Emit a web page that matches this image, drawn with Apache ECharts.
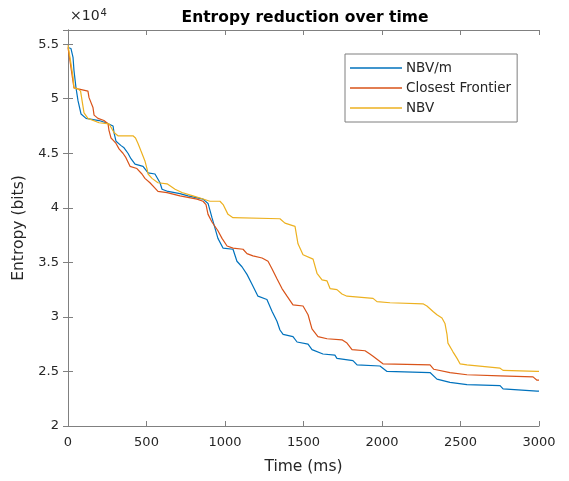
<!DOCTYPE html>
<html>
<head>
<meta charset="utf-8">
<script src="https://cdn.jsdelivr.net/npm/echarts@6/dist/echarts.min.js"></script>
<style>
  html, body { margin: 0; padding: 0; background: #fff; }
  #chart { width: 569px; height: 481px; }
</style>
</head>
<body>
<div id="chart"></div>
<script>
  // values in units of 10^4 bits, time in ms
  var seriesNames = ['NBV/m', 'Closest Frontier', 'NBV'];
  var seriesColors = ['#0072BD', '#D95319', '#EDB120'];

  var timeNbvM = [0, 19, 32, 38, 51, 64, 83, 115, 198, 242, 287, 293, 306, 338, 357, 382, 401, 427, 478, 510,
    554, 586, 599, 637, 713, 764, 860, 892, 917, 955, 988, 1051, 1076, 1108, 1140, 1172, 1210, 1267, 1300, 1331,
    1350, 1370, 1433, 1459, 1529, 1554, 1624, 1700, 1713, 1815, 1841, 1987, 2032, 2306, 2350, 2433, 2541, 2752, 2771, 2987, 3000];
  var entropyNbvM = [5.47, 5.46, 5.38, 5.26, 5.10, 4.98, 4.86, 4.82, 4.80, 4.78, 4.75, 4.69, 4.61, 4.57, 4.55, 4.50, 4.45, 4.40, 4.38, 4.32,
    4.31, 4.23, 4.17, 4.15, 4.13, 4.11, 4.08, 4.04, 3.91, 3.72, 3.63, 3.62, 3.51, 3.46, 3.39, 3.30, 3.19, 3.16, 3.05, 2.96,
    2.88, 2.84, 2.82, 2.77, 2.75, 2.70, 2.66, 2.65, 2.62, 2.60, 2.56, 2.55, 2.50, 2.49, 2.43, 2.40, 2.38, 2.37, 2.34, 2.32, 2.32];

  var timeFrontier = [0, 6, 38, 64, 127, 134, 159, 166, 191, 229, 255, 261, 274, 287, 306, 325, 350, 369, 395, 439,
    471, 490, 522, 554, 573, 631, 713, 822, 860, 879, 892, 917, 955, 981, 1013, 1051, 1115, 1140, 1178, 1236,
    1274, 1300, 1331, 1363, 1395, 1433, 1497, 1529, 1554, 1592, 1650, 1745, 1777, 1809, 1892, 1923, 1943, 2006, 2306, 2330,
    2433, 2541, 2752, 2962, 2987, 3000];
  var entropyFrontier = [5.47, 5.47, 5.10, 5.09, 5.07, 5.01, 4.92, 4.85, 4.82, 4.80, 4.77, 4.71, 4.64, 4.62, 4.59, 4.54, 4.50, 4.46, 4.38, 4.36,
    4.31, 4.27, 4.23, 4.18, 4.15, 4.14, 4.11, 4.08, 4.06, 4.03, 3.94, 3.87, 3.79, 3.72, 3.65, 3.63, 3.62, 3.58, 3.56, 3.54,
    3.51, 3.44, 3.35, 3.26, 3.19, 3.11, 3.10, 3.02, 2.89, 2.82, 2.80, 2.79, 2.76, 2.70, 2.69, 2.66, 2.64, 2.57, 2.56, 2.52,
    2.49, 2.47, 2.46, 2.45, 2.42, 2.42];

  var timeNbv = [0, 19, 32, 38, 64, 80, 102, 127, 198, 261, 293, 318, 414, 430, 446, 465, 490, 503, 510, 535,
    573, 631, 682, 726, 796, 841, 904, 968, 988, 1019, 1051, 1350, 1382, 1446, 1465, 1497, 1561, 1586, 1618, 1650,
    1669, 1713, 1745, 1777, 1943, 1968, 2051, 2261, 2286, 2325, 2350, 2382, 2401, 2414, 2420, 2452, 2478, 2497, 2541, 2752,
    2771, 2987, 3000];
  var entropyNbv = [5.49, 5.32, 5.20, 5.10, 5.09, 5.07, 4.87, 4.82, 4.78, 4.77, 4.69, 4.66, 4.66, 4.64, 4.59, 4.52, 4.43, 4.36, 4.31, 4.27,
    4.23, 4.22, 4.17, 4.14, 4.11, 4.09, 4.06, 4.06, 4.03, 3.94, 3.91, 3.90, 3.86, 3.83, 3.67, 3.57, 3.53, 3.40, 3.34, 3.33,
    3.26, 3.25, 3.21, 3.19, 3.17, 3.14, 3.13, 3.12, 3.10, 3.05, 3.02, 2.99, 2.94, 2.84, 2.76, 2.68, 2.62, 2.57, 2.56, 2.53,
    2.51, 2.50, 2.50];

  var yTicks = [2, 2.5, 3, 3.5, 4, 4.5, 5, 5.5];

  function pairs(t, v) {
    var out = [];
    for (var i = 0; i < t.length; i++) out.push([t[i], v[i]]);
    return out;
  }
  var allData = [pairs(timeNbvM, entropyNbvM), pairs(timeFrontier, entropyFrontier), pairs(timeNbv, entropyNbv)];

  var axisColor = '#808080';
  var labelColor = '#262626';
  var font = 'DejaVu Sans, sans-serif';

  var tickStyle = { show: true, inside: true, length: 5, lineStyle: { color: axisColor } };

  function xAxis(pos, show) {
    return {
      type: 'value', position: pos, min: 0, max: 3000, interval: 500,
      name: show ? 'Time (ms)' : '', nameLocation: 'middle', nameGap: 33,
      nameTextStyle: { fontSize: 15.5, color: labelColor, fontFamily: font },
      axisLine: { show: true, lineStyle: { color: axisColor, width: 1 } },
      axisTick: tickStyle,
      axisLabel: {
        show: show, color: labelColor, fontSize: 13, fontFamily: font, margin: 10,
        formatter: function (v) { return String(v); }
      },
      splitLine: { show: false }
    };
  }
  function yAxis(pos, show) {
    return {
      type: 'value', position: pos, min: 2, max: 5.63, interval: 0.5,
      name: show ? 'Entropy (bits)' : '', nameLocation: 'middle', nameGap: 31,
      nameTextStyle: { fontSize: 15.5, color: labelColor, fontFamily: font },
      axisLine: { show: true, lineStyle: { color: axisColor, width: 1 } },
      axisTick: tickStyle,
      axisLabel: {
        show: show, color: labelColor, fontSize: 13, fontFamily: font, margin: 9,
        showMaxLabel: false,
        formatter: function (v) { return yTicks.indexOf(v) >= 0 ? String(v) : ''; }
      },
      splitLine: { show: false }
    };
  }

  var chart = echarts.init(document.getElementById('chart'), null, { renderer: 'canvas' });
  chart.setOption({
    animation: false,
    backgroundColor: '#fff',
    title: {
      text: 'Entropy reduction over time',
      left: 300, top: 5, textAlign: 'center',
      textStyle: { fontSize: 15.5, fontWeight: 'bold', color: '#000', fontFamily: font }
    },
    grid: { left: 68, right: 30, top: 30, bottom: 55 },
    xAxis: [xAxis('bottom', true), xAxis('top', false)],
    yAxis: [yAxis('left', true), yAxis('right', false)],
    legend: {
      orient: 'vertical', left: 345, top: 54,
      padding: [6, 6, 6, 5], itemGap: 4, itemWidth: 52, itemHeight: 1.5,
      icon: 'rect',
      backgroundColor: '#fff', borderColor: '#7f7f7f', borderWidth: 1,
      textStyle: { fontSize: 13.5, color: labelColor, fontFamily: font, lineHeight: 16, padding: [0, 0, 0, -1] },
      data: seriesNames
    },
    graphic: [{
      type: 'text', left: 70, top: 8,
      style: {
        text: '{a|\u00d710}{b|4}',
        rich: {
          a: { fontSize: 14, fill: labelColor, fontFamily: font },
          b: { fontSize: 10, fill: labelColor, fontFamily: font, verticalAlign: 'top', padding: [0, 0, 7, 1] }
        }
      }
    }],
    series: seriesNames.map(function (name, i) {
      return {
        name: name, type: 'line', data: allData[i],
        xAxisIndex: 0, yAxisIndex: 0,
        symbol: 'none', smooth: false,
        lineStyle: { color: seriesColors[i], width: 1.2 },
        itemStyle: { color: seriesColors[i] }
      };
    })
  });
</script>
</body>
</html>
